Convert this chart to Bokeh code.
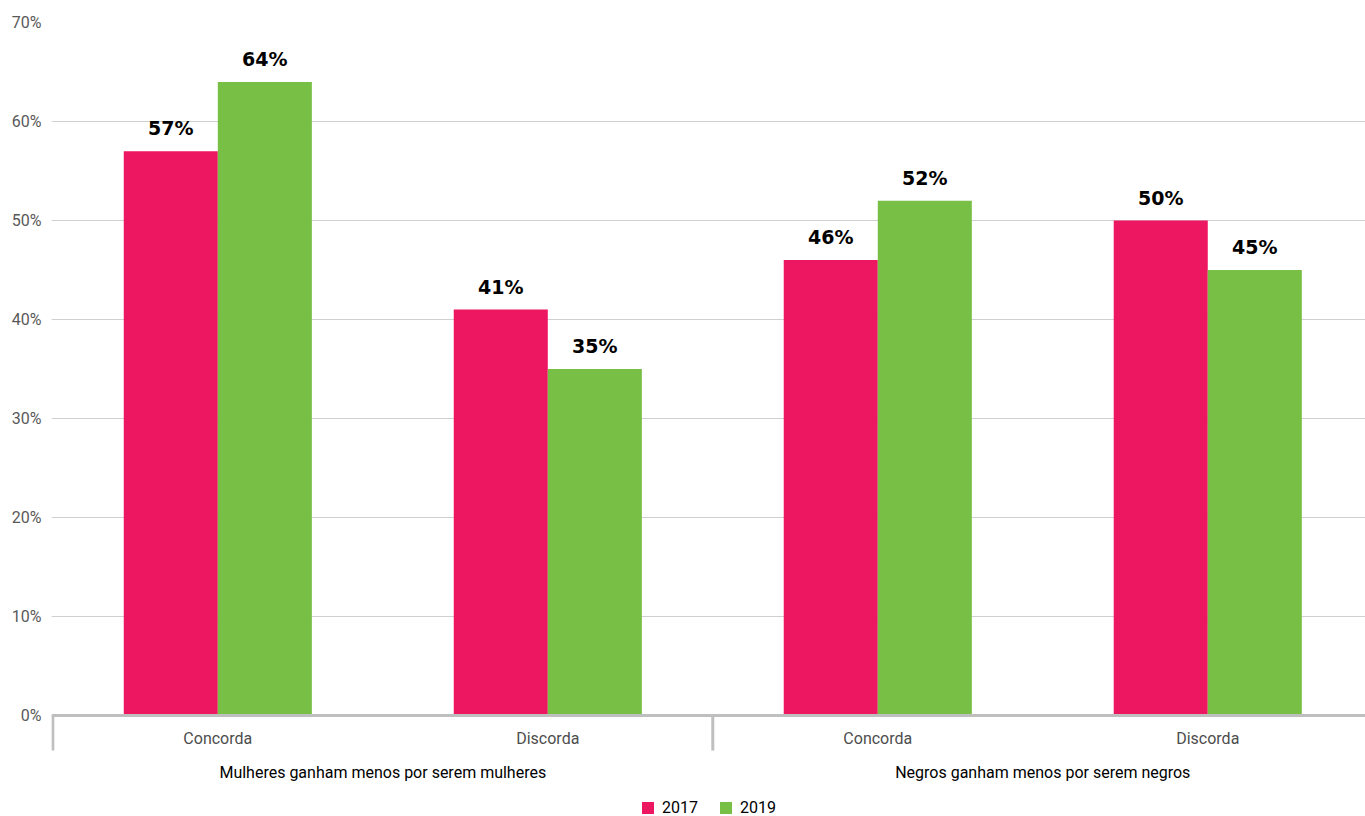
from bokeh.plotting import figure
from bokeh.models import (ColumnDataSource, FixedTicker, PrintfTickFormatter, Range1d,
                          Span, Legend, LegendItem)
from bokeh.core.properties import value
from bokeh.embed import file_html
from bokeh.resources import INLINE

# ---- data ----
groups = ["Mulheres ganham menos por serem mulheres", "Negros ganham menos por serem negros"]
answers = ["Concorda", "Discorda", "Concorda", "Discorda"]
series = ["2017", "2019"]
v2017 = [57, 41, 46, 50]
v2019 = [64, 35, 52, 45]
y_ticks = [0, 10, 20, 30, 40, 50, 60, 70]

PINK = "#ED1660"
GREEN = "#78BF45"
AXIS = "#BFBFBF"

W, H = 1365, 816
p = figure(width=W, height=H, output_backend="svg", toolbar_location=None,
           x_axis_location=None, min_border_left=51, min_border_right=0,
           min_border_top=22, min_border_bottom=0)
p.outline_line_color = None
p.x_range = Range1d(-0.004, 3.978)
p.y_range = Range1d(-10.202, 70)

bw = 0.285
pos = [i + 0.5 for i in range(len(answers))]
src = ColumnDataSource(dict(
    x17=[c - bw / 2 for c in pos], x19=[c + bw / 2 for c in pos],
    v17=v2017, v19=v2019,
    t17=[f"{v}%" for v in v2017], t19=[f"{v}%" for v in v2019],
    ly17=[v + 2.3 for v in v2017], ly19=[v + 2.3 for v in v2019],
))

r17 = p.vbar(x="x17", top="v17", bottom=0, width=bw, source=src, fill_color=PINK, line_color=None)
r19 = p.vbar(x="x19", top="v19", bottom=0, width=bw, source=src, fill_color=GREEN, line_color=None)

for xs, ts, ys in (("x17", "t17", "ly17"), ("x19", "t19", "ly19")):
    p.text(x=xs, y=ys, text=ts, source=src, text_align="center", text_baseline="middle",
           text_font=value("DejaVu Sans"), text_font_style="bold", text_font_size="19px",
           text_color="#000000")

# y axis
p.yaxis.ticker = FixedTicker(ticks=y_ticks)
p.yaxis.formatter = PrintfTickFormatter(format="%d%%")
p.yaxis.axis_line_color = None
p.yaxis.major_tick_line_color = None
p.yaxis.minor_tick_line_color = None
p.yaxis.major_tick_out = 0
p.yaxis.major_tick_in = 0
p.yaxis.major_label_standoff = 10
p.yaxis.major_label_text_font = "Roboto"
p.yaxis.major_label_text_font_size = "16px"
p.yaxis.major_label_text_color = "#595959"
p.ygrid.ticker = FixedTicker(ticks=y_ticks[1:])
p.ygrid.grid_line_color = "#D0D0D0"
p.ygrid.grid_line_width = 1
p.xgrid.visible = False

# baseline and group separators
p.add_layout(Span(location=0, dimension="width", line_color=AXIS, line_width=3))
sep_y = -3.54
p.segment(x0=[0, 2], y0=[0, 0], x1=[0, 2], y1=[sep_y, sep_y], line_color=AXIS, line_width=3)

# category labels
p.text(x=pos, y=[-2.32] * 4, text=answers, text_align="center", text_baseline="middle",
       text_font=value("Roboto"), text_font_size="16px", text_color="#4D4D4D")
p.text(x=[1, 3], y=[-5.76] * 2, text=groups, text_align="center", text_baseline="middle",
       text_font=value("Roboto"), text_font_style="normal", text_font_size="16px",
       text_color="#000000")

# legend
legend = Legend(items=[LegendItem(label=series[0], renderers=[r17]),
                       LegendItem(label=series[1], renderers=[r19])],
                location=(589, -1), orientation="horizontal")
legend.glyph_width = 15
legend.glyph_height = 15
legend.label_height = 15
legend.label_standoff = 7
legend.spacing = 20
legend.padding = 0
legend.margin = 0
legend.border_line_color = None
legend.background_fill_alpha = 0
legend.label_text_font = "Roboto"
legend.label_text_font_size = "16px"
legend.label_text_color = "#000000"
p.add_layout(legend, "center")

open("out.html", "w").write(file_html(p, INLINE))
